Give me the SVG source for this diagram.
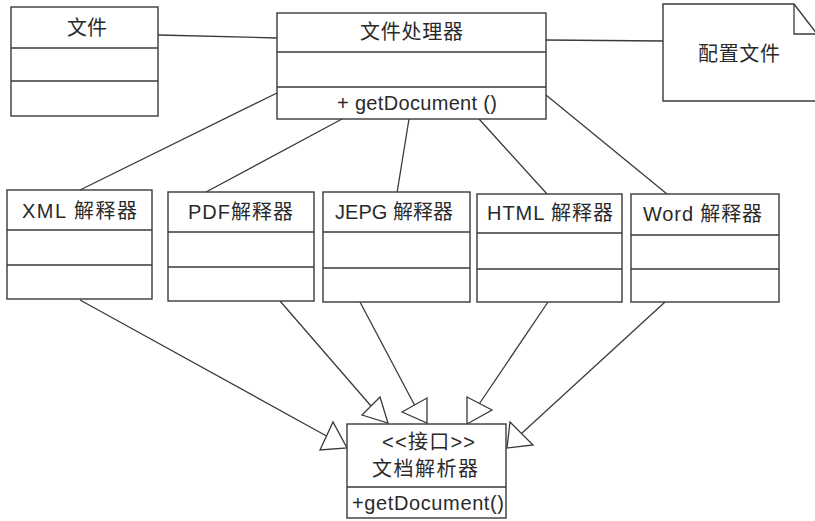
<svg xmlns="http://www.w3.org/2000/svg" width="815" height="521" viewBox="0 0 815 521">
<style>
.box{fill:#fff;stroke:#3a3a3a;stroke-width:1.4}
.ln{fill:none;stroke:#3a3a3a;stroke-width:1.3}
.tri{fill:#fff;stroke:#3a3a3a;stroke-width:1.3;stroke-linejoin:miter}
text{font-family:"Liberation Sans","Noto Sans CJK SC",sans-serif;fill:#2a2a2a;font-size:20px}
</style>
<rect width="815" height="521" fill="#fff"/>
<g id="connectors">
<line class="ln" x1="158" y1="35" x2="277" y2="38"/>
<line class="ln" x1="546" y1="40" x2="663" y2="41"/>
<line class="ln" x1="277" y1="93" x2="80" y2="190"/>
<line class="ln" x1="342" y1="119" x2="206" y2="192"/>
<line class="ln" x1="409" y1="119" x2="397" y2="193"/>
<line class="ln" x1="479" y1="119" x2="547" y2="194"/>
<line class="ln" x1="546" y1="95" x2="667" y2="194"/>
<line class="ln" x1="80" y1="300" x2="326.5" y2="436"/>
<line class="ln" x1="280" y1="301" x2="371" y2="406"/>
<line class="ln" x1="360" y1="302" x2="414.5" y2="405"/>
<line class="ln" x1="548" y1="302" x2="479.5" y2="403.5"/>
<line class="ln" x1="665" y1="302" x2="521.5" y2="433.5"/>
<polygon class="tri" points="320,450 333,422 347,448"/>
<polygon class="tri" points="362,415 380,397 388,423"/>
<polygon class="tri" points="402,412 427,398 427,423"/>
<polygon class="tri" points="467,397 492,410 467,424"/>
<polygon class="tri" points="510,422 533,445 507,448"/>
</g>
<g id="file">
<rect class="box" x="11" y="7" width="147" height="109"/>
<line class="ln" x1="11" y1="48" x2="158" y2="48"/>
<line class="ln" x1="11" y1="81" x2="158" y2="81"/>
<text x="67" y="35" font-size="19" textLength="40" lengthAdjust="spacing">文件</text>
</g>
<g id="handler">
<rect class="box" x="277" y="13" width="269" height="106"/>
<line class="ln" x1="277" y1="52" x2="546" y2="52"/>
<line class="ln" x1="277" y1="87" x2="546" y2="87"/>
<text x="360" y="39" font-size="19" textLength="103" lengthAdjust="spacing">文件处理器</text>
<text x="337" y="110" font-size="21" textLength="160" lengthAdjust="spacing">+ getDocument ()</text>
</g>
<g id="config">
<path class="box" d="M663,4 H794 L817,34 V101 H663 Z"/>
<path class="ln" d="M794,4 V34 H817"/>
<text x="698" y="61" font-size="19" textLength="82" lengthAdjust="spacing">配置文件</text>
</g>
<g id="xml">
<rect class="box" x="7" y="190" width="145" height="109"/>
<line class="ln" x1="7" y1="230" x2="152" y2="230"/>
<line class="ln" x1="7" y1="265" x2="152" y2="265"/>
<text x="22" y="218" textLength="115" lengthAdjust="spacing">XML 解释器</text>
</g>
<g id="pdf">
<rect class="box" x="168" y="192" width="146" height="109"/>
<line class="ln" x1="168" y1="232" x2="314" y2="232"/>
<line class="ln" x1="168" y1="267" x2="314" y2="267"/>
<text x="188" y="219" textLength="105" lengthAdjust="spacing">PDF解释器</text>
</g>
<g id="jepg">
<rect class="box" x="323" y="192" width="147" height="110"/>
<line class="ln" x1="323" y1="232" x2="470" y2="232"/>
<line class="ln" x1="323" y1="268" x2="470" y2="268"/>
<text x="335" y="219" textLength="118" lengthAdjust="spacing">JEPG 解释器</text>
</g>
<g id="html">
<rect class="box" x="477" y="194" width="145" height="108"/>
<line class="ln" x1="477" y1="233" x2="622" y2="233"/>
<line class="ln" x1="477" y1="269" x2="622" y2="269"/>
<text x="487" y="220" textLength="126" lengthAdjust="spacing">HTML 解释器</text>
</g>
<g id="word">
<rect class="box" x="631" y="194" width="148" height="108"/>
<line class="ln" x1="631" y1="235" x2="779" y2="235"/>
<line class="ln" x1="631" y1="269" x2="779" y2="269"/>
<text x="643" y="221" textLength="119" lengthAdjust="spacing">Word 解释器</text>
</g>
<g id="parser">
<rect class="box" x="347" y="424" width="159" height="94"/>
<line class="ln" x1="347" y1="487" x2="506" y2="487"/>
<text x="382" y="449" font-size="18" textLength="93" lengthAdjust="spacing">&lt;&lt;接口&gt;&gt;</text>
<text x="372" y="476" font-size="21" textLength="106" lengthAdjust="spacing">文档解析器</text>
<text x="352" y="510" font-size="20" textLength="152" lengthAdjust="spacing">+getDocument()</text>
</g>
</svg>
